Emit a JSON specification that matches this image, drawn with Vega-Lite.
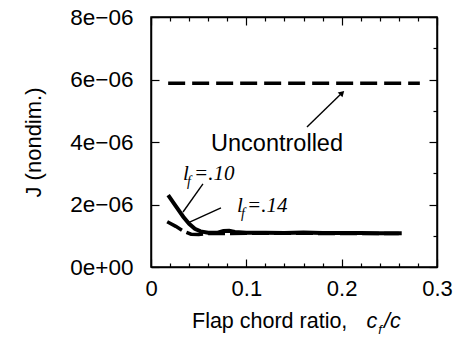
{
  "$schema": "https://vega.github.io/schema/vega-lite/v6.json",
  "width": 286,
  "height": 250,
  "autosize": {"type": "none"},
  "padding": {"left": 151, "top": 17, "right": 19, "bottom": 71},
  "background": "white",
  "config": {
    "font": "Liberation Sans",
    "view": {"stroke": "black", "strokeWidth": 1.5},
    "axis": {
      "grid": false,
      "domainColor": "black",
      "domainWidth": 1.5,
      "tickColor": "black",
      "tickWidth": 1.2,
      "labelFont": "Liberation Sans",
      "labelFontSize": 22,
      "labelColor": "black",
      "labelFlush": false,
      "labelOverlap": false,
      "labelBound": false,
      "titleFont": "Liberation Sans",
      "titleFontSize": 22,
      "titleFontWeight": "normal",
      "titleColor": "black"
    }
  },
  "datasets": {
    "curves": [
      {"series": "lf10", "x": 0.018, "J": 2.30e-6},
      {"series": "lf10", "x": 0.026, "J": 1.95e-6},
      {"series": "lf10", "x": 0.034, "J": 1.60e-6},
      {"series": "lf10", "x": 0.040, "J": 1.38e-6},
      {"series": "lf10", "x": 0.046, "J": 1.22e-6},
      {"series": "lf10", "x": 0.052, "J": 1.14e-6},
      {"series": "lf10", "x": 0.060, "J": 1.10e-6},
      {"series": "lf10", "x": 0.070, "J": 1.10e-6},
      {"series": "lf10", "x": 0.076, "J": 1.15e-6},
      {"series": "lf10", "x": 0.082, "J": 1.16e-6},
      {"series": "lf10", "x": 0.088, "J": 1.12e-6},
      {"series": "lf10", "x": 0.100, "J": 1.10e-6},
      {"series": "lf10", "x": 0.120, "J": 1.10e-6},
      {"series": "lf10", "x": 0.140, "J": 1.09e-6},
      {"series": "lf10", "x": 0.160, "J": 1.10e-6},
      {"series": "lf10", "x": 0.180, "J": 1.09e-6},
      {"series": "lf10", "x": 0.200, "J": 1.09e-6},
      {"series": "lf10", "x": 0.220, "J": 1.09e-6},
      {"series": "lf10", "x": 0.240, "J": 1.08e-6},
      {"series": "lf10", "x": 0.263, "J": 1.08e-6},
      {"series": "lf14", "x": 0.017, "J": 1.45e-6},
      {"series": "lf14", "x": 0.026, "J": 1.30e-6},
      {"series": "lf14", "x": 0.034, "J": 1.15e-6},
      {"series": "lf14", "x": 0.042, "J": 1.05e-6},
      {"series": "lf14", "x": 0.050, "J": 1.04e-6},
      {"series": "lf14", "x": 0.060, "J": 1.07e-6},
      {"series": "lf14", "x": 0.100, "J": 1.08e-6},
      {"series": "lf14", "x": 0.150, "J": 1.08e-6},
      {"series": "lf14", "x": 0.200, "J": 1.07e-6},
      {"series": "lf14", "x": 0.260, "J": 1.07e-6},
      {"series": "uncontrolled", "x": 0.018, "J": 5.88e-6},
      {"series": "uncontrolled", "x": 0.100, "J": 5.88e-6},
      {"series": "uncontrolled", "x": 0.200, "J": 5.88e-6},
      {"series": "uncontrolled", "x": 0.282, "J": 5.88e-6}
    ],
    "leaders": [
      {"x": 0.0545, "y": 2.66e-6, "x2": 0.0336, "y2": 1.76e-6},
      {"x": 0.0734, "y": 1.89e-6, "x2": 0.0388, "y2": 1.41e-6},
      {"x": 0.1636, "y": 4.48e-6, "x2": 0.2000, "y2": 5.56e-6}
    ],
    "notes": [
      {"style": "big", "label": "Uncontrolled", "x": 0.1322, "J": 3.71e-6},
      {"style": "sansLeft", "label": "Flap chord ratio,", "x": 0.0430, "J": -1.952e-6},
      {"style": "sansItCenter", "label": "c", "x": 0.2318, "J": -1.952e-6},
      {"style": "sansItLeft", "label": "/c", "x": 0.2444, "J": -1.952e-6},
      {"style": "sub", "label": "f", "x": 0.2402, "J": -2.144e-6},
      {"style": "serifCenter", "label": "l", "x": 0.0367, "J": 2.784e-6},
      {"style": "serifLeft", "label": "=.10", "x": 0.0451, "J": 2.784e-6},
      {"style": "subSerif", "label": "f", "x": 0.0399, "J": 2.592e-6},
      {"style": "serifCenter", "label": "l", "x": 0.0934, "J": 1.76e-6},
      {"style": "serifLeft", "label": "=.14", "x": 0.1007, "J": 1.76e-6},
      {"style": "subSerif", "label": "f", "x": 0.0965, "J": 1.568e-6}
    ]
  },
  "layer": [
    {
      "layer": [
        {
          "data": {"name": "curves"},
          "transform": [{"filter": "datum.series == 'lf14'"}],
          "mark": {"type": "line", "color": "black", "strokeWidth": 3.5, "strokeDash": [17, 5]},
          "encoding": {
            "x": {
              "field": "x", "type": "quantitative",
              "scale": {"domain": [0, 0.3], "nice": false, "zero": false},
              "axis": {
                "values": [0, 0.1, 0.2, 0.3],
                "labelExpr": "datum.value == 0 ? '0' : format(datum.value, '.1f')",
                "tickSize": -8,
                "labelOverlap": false,
                "labelPadding": 19,
                "title": null
              }
            },
            "y": {
              "field": "J", "type": "quantitative",
              "scale": {"domain": [0, 8e-6], "nice": false, "zero": false},
              "axis": {
                "values": [0, 1e-6, 2e-6, 3e-6, 4e-6, 5e-6, 6e-6, 7e-6, 8e-6],
                "labelExpr": "round(datum.value*1e6) % 2 == 0 ? (round(datum.value*1e6) == 0 ? '0e+00' : round(datum.value*1e6) + 'e\u221206') : ''",
                "tickSize": {"condition": {"test": "round(datum.value*1e6) % 2 == 0", "value": -8}, "value": -4},
                "labelOverlap": false,
                "labelFontSize": 22.5,
                "labelPadding": 26,
                "title": "J (nondim.)",
                "titlePadding": 24
              }
            }
          }
        },
        {
          "data": {"name": "curves"},
          "transform": [{"filter": "datum.series == 'lf10'"}],
          "mark": {"type": "line", "color": "black", "strokeWidth": 4},
          "encoding": {
            "x": {"field": "x", "type": "quantitative"},
            "y": {"field": "J", "type": "quantitative"}
          }
        },
        {
          "data": {"values": [{"x": 0.2005, "J": 5.57e-6}]},
          "mark": {"type": "point", "shape": "triangle-up", "angle": 45, "size": 45, "filled": true, "color": "black", "opacity": 1},
          "encoding": {
            "x": {"field": "x", "type": "quantitative"},
            "y": {"field": "J", "type": "quantitative"}
          }
        },
        {
          "data": {"name": "notes"},
          "transform": [{"filter": "datum.style == 'big'"}],
          "mark": {"type": "text", "font": "Liberation Sans", "fontSize": 23.5, "color": "black", "baseline": "alphabetic", "align": "center"},
          "encoding": {
            "x": {"field": "x", "type": "quantitative"},
            "y": {"field": "J", "type": "quantitative"},
            "text": {"field": "label"}
          }
        },
        {
          "data": {"name": "notes"},
          "transform": [{"filter": "datum.style == 'sansLeft'"}],
          "mark": {"type": "text", "font": "Liberation Sans", "fontSize": 21.5, "color": "black", "baseline": "alphabetic", "align": "left"},
          "encoding": {
            "x": {"field": "x", "type": "quantitative"},
            "y": {"field": "J", "type": "quantitative"},
            "text": {"field": "label"}
          }
        },
        {
          "data": {"name": "notes"},
          "transform": [{"filter": "datum.style == 'sansItCenter'"}],
          "mark": {"type": "text", "font": "Liberation Sans", "fontStyle": "italic", "fontSize": 21.5, "color": "black", "baseline": "alphabetic", "align": "center"},
          "encoding": {
            "x": {"field": "x", "type": "quantitative"},
            "y": {"field": "J", "type": "quantitative"},
            "text": {"field": "label"}
          }
        },
        {
          "data": {"name": "notes"},
          "transform": [{"filter": "datum.style == 'sansItLeft'"}],
          "mark": {"type": "text", "font": "Liberation Sans", "fontStyle": "italic", "fontSize": 21.5, "color": "black", "baseline": "alphabetic", "align": "left"},
          "encoding": {
            "x": {"field": "x", "type": "quantitative"},
            "y": {"field": "J", "type": "quantitative"},
            "text": {"field": "label"}
          }
        },
        {
          "data": {"name": "notes"},
          "transform": [{"filter": "datum.style == 'sub'"}],
          "mark": {"type": "text", "font": "Liberation Sans", "fontStyle": "italic", "fontSize": 13, "color": "black", "baseline": "alphabetic", "align": "center"},
          "encoding": {
            "x": {"field": "x", "type": "quantitative"},
            "y": {"field": "J", "type": "quantitative"},
            "text": {"field": "label"}
          }
        },
        {
          "data": {"name": "notes"},
          "transform": [{"filter": "datum.style == 'serifCenter'"}],
          "mark": {"type": "text", "font": "Liberation Serif", "fontStyle": "italic", "fontSize": 21, "color": "black", "baseline": "alphabetic", "align": "center"},
          "encoding": {
            "x": {"field": "x", "type": "quantitative"},
            "y": {"field": "J", "type": "quantitative"},
            "text": {"field": "label"}
          }
        },
        {
          "data": {"name": "notes"},
          "transform": [{"filter": "datum.style == 'serifLeft'"}],
          "mark": {"type": "text", "font": "Liberation Serif", "fontStyle": "italic", "fontSize": 21, "color": "black", "baseline": "alphabetic", "align": "left"},
          "encoding": {
            "x": {"field": "x", "type": "quantitative"},
            "y": {"field": "J", "type": "quantitative"},
            "text": {"field": "label"}
          }
        },
        {
          "data": {"name": "notes"},
          "transform": [{"filter": "datum.style == 'subSerif'"}],
          "mark": {"type": "text", "font": "Liberation Serif", "fontStyle": "italic", "fontSize": 14, "color": "black", "baseline": "alphabetic", "align": "center"},
          "encoding": {
            "x": {"field": "x", "type": "quantitative"},
            "y": {"field": "J", "type": "quantitative"},
            "text": {"field": "label"}
          }
        }
      ]
    },
    {
      "data": {"name": "curves"},
      "transform": [{"filter": "datum.series == 'uncontrolled'"}],
      "mark": {"type": "line", "color": "black", "strokeWidth": 3.5, "strokeDash": [17, 7]},
      "encoding": {
        "x": {
          "field": "x", "type": "quantitative",
          "axis": {
            "orient": "top",
            "values": [0, 0.02, 0.04, 0.06, 0.08, 0.1, 0.12, 0.14, 0.16, 0.18, 0.2, 0.22, 0.24, 0.26, 0.28, 0.3],
            "labels": false,
            "tickSize": {"condition": {"test": "abs(datum.value*10 - round(datum.value*10)) < 0.001", "value": -8}, "value": -4},
            "title": null
          }
        },
        "y": {
          "field": "J", "type": "quantitative",
          "axis": {
            "orient": "right",
            "values": [0, 1e-6, 2e-6, 3e-6, 4e-6, 5e-6, 6e-6, 7e-6, 8e-6],
            "labels": false,
            "tickSize": {"condition": {"test": "round(datum.value*1e6) % 2 == 0", "value": -8}, "value": -4},
            "title": null
          }
        }
      }
    },
    {
      "data": {"name": "leaders"},
      "mark": {"type": "rule", "color": "black", "strokeWidth": 1.4},
      "encoding": {
        "x": {
          "field": "x", "type": "quantitative",
          "axis": {
            "orient": "bottom",
            "values": [0.02, 0.04, 0.06, 0.08, 0.12, 0.14, 0.16, 0.18, 0.22, 0.24, 0.26, 0.28],
            "labels": false,
            "domain": false,
            "tickSize": -4,
            "title": null
          }
        },
        "y": {"field": "y", "type": "quantitative", "axis": null},
        "x2": {"field": "x2"},
        "y2": {"field": "y2"}
      }
    }
  ],
  "resolve": {"axis": {"x": "independent", "y": "independent"}}
}
